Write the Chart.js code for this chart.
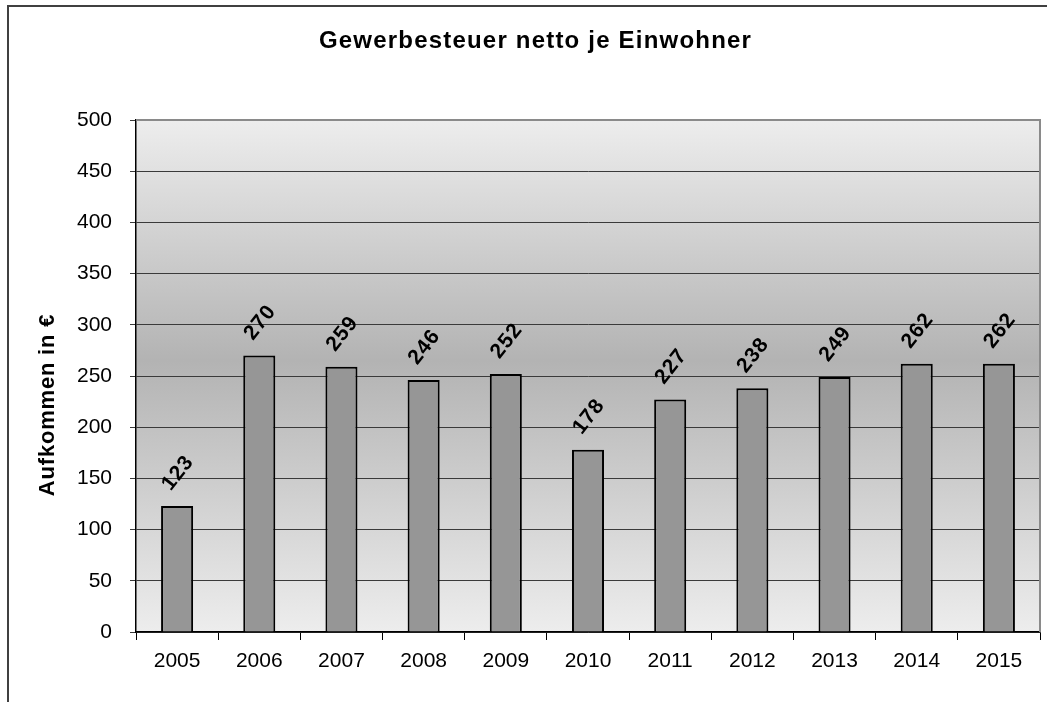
<!DOCTYPE html>
<html>
<head>
<meta charset="utf-8">
<script src="https://cdn.jsdelivr.net/npm/chart.js@4.4.1/dist/chart.umd.min.js"></script>
<style>
  html, body { margin: 0; padding: 0; background: #fff; }
  #wrap { width: 1047px; height: 702px; position: relative; }
</style>
</head>
<body>
<div id="wrap"><canvas id="chart"></canvas></div>
<script>
const years = ['2005', '2006', '2007', '2008', '2009', '2010', '2011', '2012', '2013', '2014', '2015'];
const values = [123, 270, 259, 246, 252, 178, 227, 238, 249, 262, 262];
const chartTitle = 'Gewerbesteuer netto je Einwohner';
const yTitle = 'Aufkommen in €';
const fontFamily = '"Liberation Sans", Arial, sans-serif';

// background gradient, frame, titles and value labels
const decor = {
    id: 'decor',
    beforeDraw(chart) {
        const ctx = chart.ctx;
        const a = chart.chartArea;
        ctx.save();
        ctx.fillStyle = '#fff';
        ctx.fillRect(0, 0, chart.width, chart.height);
        const g = ctx.createLinearGradient(0, a.top, 0, a.bottom);
        g.addColorStop(0, '#ededed');
        g.addColorStop(0.47, '#b3b3b3');
        g.addColorStop(1, '#ededed');
        ctx.fillStyle = g;
        ctx.fillRect(a.left, a.top, a.right - a.left, a.bottom - a.top);
        ctx.restore();
    },
    afterDatasetsDraw(chart) {
        const ctx = chart.ctx;
        const meta = chart.getDatasetMeta(0);
        ctx.save();
        ctx.fillStyle = '#000';
        ctx.font = 'bold 21px ' + fontFamily;
        ctx.letterSpacing = '1px';
        ctx.textAlign = 'center';
        ctx.textBaseline = 'middle';
        meta.data.forEach((bar, i) => {
            ctx.save();
            ctx.translate(bar.x + 1, bar.y - 33);
            ctx.rotate(-0.9);
            ctx.fillText(String(values[i]), 0, 0);
            ctx.restore();
        });
        ctx.restore();
    },
    afterDraw(chart) {
        const ctx = chart.ctx;
        const a = chart.chartArea;
        ctx.save();
        // plot area border (top, right)
        ctx.strokeStyle = '#8a8a8a';
        ctx.lineWidth = 2;
        ctx.beginPath();
        ctx.moveTo(a.left, a.top);
        ctx.lineTo(a.right, a.top);
        ctx.lineTo(a.right, a.bottom);
        ctx.stroke();
        // outer frame
        ctx.fillStyle = '#404040';
        ctx.fillRect(7, 5, chart.width, 2);
        ctx.fillRect(7, 5, 2, chart.height);
        // chart title
        ctx.fillStyle = '#000';
        ctx.font = 'bold 24px ' + fontFamily;
        ctx.letterSpacing = '1.2px';
        ctx.textAlign = 'center';
        ctx.textBaseline = 'alphabetic';
        ctx.fillText(chartTitle, 535.5, 47.5);
        // y axis title
        ctx.font = 'bold 22px ' + fontFamily;
        ctx.letterSpacing = '0.8px';
        ctx.translate(54, 405);
        ctx.rotate(-Math.PI / 2);
        ctx.fillText(yTitle, 0, 0);
        ctx.restore();
    }
};

const data = {
    labels: years,
    datasets: [
        {
            data: values,
            backgroundColor: '#969696',
            borderColor: '#000',
            borderWidth: 2,
            barPercentage: 0.39,
            categoryPercentage: 1
        }
    ]
};

const config = {
    type: 'bar',
    data: data,
    options: {
        responsive: true,
        maintainAspectRatio: false,
        animation: false,
        devicePixelRatio: 1,
        layout: {
            padding: { top: 120, right: 7, bottom: 0, left: 0 }
        },
        plugins: {
            legend: { display: false },
            title: { display: false },
            tooltip: { enabled: false }
        },
        scales: {
            x: {
                grid: {
                    offset: true,
                    drawOnChartArea: false,
                    drawTicks: true,
                    tickLength: 8,
                    color: '#000'
                },
                border: { color: '#000', width: 1.5 },
                ticks: {
                    color: '#000',
                    font: { family: fontFamily, size: 21 },
                    padding: 9,
                    maxRotation: 0,
                    autoSkip: false
                },
                afterFit(scale) { scale.height = 70; }
            },
            y: {
                min: 0,
                max: 500,
                grid: { color: '#3a3a3a', tickLength: 6 },
                border: { color: '#000', width: 1.5 },
                ticks: {
                    stepSize: 50,
                    color: '#000',
                    font: { family: fontFamily, size: 21 },
                    padding: 18
                },
                afterFit(scale) { scale.width = 136; }
            }
        }
    },
    plugins: [decor]
};

const barChart = new Chart(document.getElementById('chart'), config);
</script>
</body>
</html>
